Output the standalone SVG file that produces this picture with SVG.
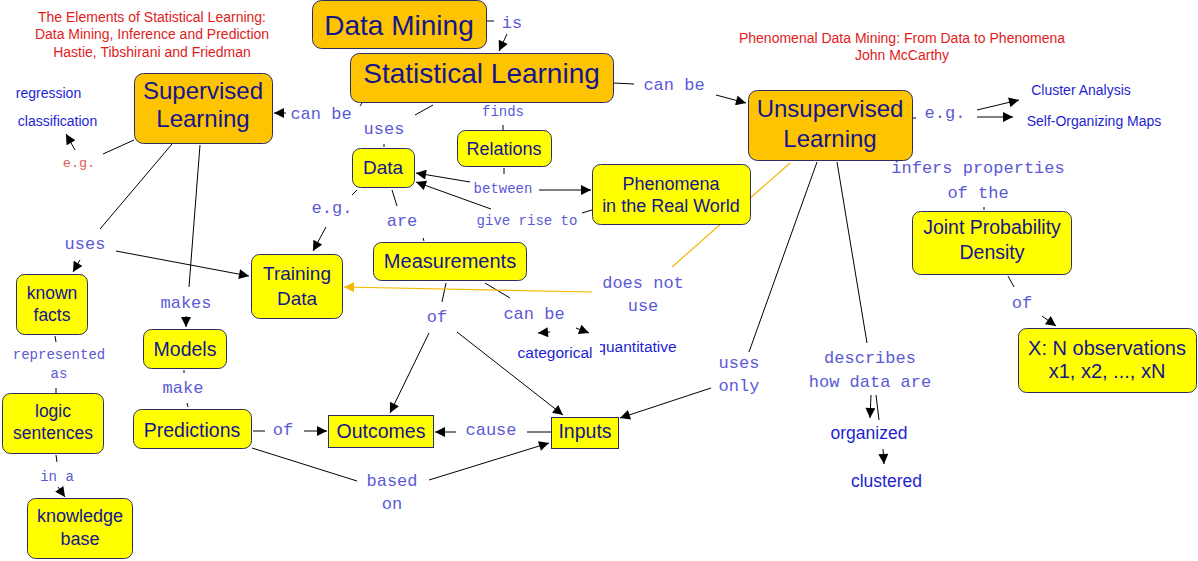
<svg xmlns="http://www.w3.org/2000/svg" width="1198" height="561" viewBox="0 0 1198 561">
<style>
.bg{fill:#fff}
.o{fill:#FFC400;stroke:#2d2d66;stroke-width:1}
.y{fill:#FFFF00;stroke:#2d2d66;stroke-width:1}
.nt{font-family:"Liberation Sans",Arial,sans-serif;fill:#16168c;text-anchor:middle}
.ft{font-family:"Liberation Sans",Arial,sans-serif;fill:#1f1fd2;text-anchor:middle}
.rd{font-family:"Liberation Sans",Arial,sans-serif;fill:#e01c1c;text-anchor:middle;font-size:14px}
.lk{font-family:"Liberation Mono","Courier New",monospace;fill:#5a5ad6;text-anchor:middle;font-size:17px}
.sm{font-size:14px}
.ln{stroke:#000;stroke-width:1;fill:none}
.ar{marker-end:url(#ah)}
.or{stroke:#f5b800;stroke-width:1.2;fill:none}
.oar{marker-end:url(#oh)}
</style>
<defs>
<marker id="ah" viewBox="0 0 10 10" refX="10" refY="5" markerWidth="12" markerHeight="10" orient="auto" markerUnits="userSpaceOnUse"><path d="M0,0 L10,5 L0,10 z" fill="#000"/></marker>
<marker id="oh" viewBox="0 0 10 10" refX="10" refY="5" markerWidth="12" markerHeight="10" orient="auto" markerUnits="userSpaceOnUse"><path d="M0,0 L10,5 L0,10 z" fill="#f5b800"/></marker>
</defs>
<rect class="bg" x="0" y="0" width="1198" height="561"/>

<g id="connectors">
<path class="ln" d="M486,21 L494,21"/>
<path class="ln ar" d="M507,34 L499,51"/>
<path class="ln" d="M613,83 L634,84"/>
<path class="ln ar" d="M716,95 L746,103"/>
<path class="ln" d="M362,103 L360,106"/>
<path class="ln ar" d="M286,113 L274,113"/>
<path class="ln" d="M433,105 L415,115"/>
<path class="ln" d="M384,144 L384,147"/>
<path class="ln" d="M503,125 L503,130"/>
<path class="ln" d="M504,168 L504,174"/>
<path class="ln ar" d="M470,182 L416,173"/>
<path class="ln ar" d="M539,190 L591,190"/>
<path class="ln" d="M592,210 L582,213"/>
<path class="ln ar" d="M491,209 L416,182"/>
<path class="ln" d="M357,190 L352,195"/>
<path class="ln ar" d="M326,227 L313,251"/>
<path class="ln" d="M392,190 L397,206"/>
<path class="ln" d="M423,238 L424,241"/>
<path class="ln" d="M446,283 L442,302"/>
<path class="ln ar" d="M429,333 L390,413"/>
<path class="ln ar" d="M457,332 L563,415"/>
<path class="ln" d="M485,283 L510,298"/>
<path class="ln ar" d="M550,332 L538,333"/>
<path class="ln ar" d="M576,328 L589,333"/>
<path class="or" d="M790,163 L672,267"/>
<path class="or oar" d="M592,292 L344,287"/>
<path class="ln" d="M134,140 L103,154"/>
<path class="ln ar" d="M75,150 L66,134"/>
<path class="ln" d="M172,144 L100,229"/>
<path class="ln ar" d="M80,260 L73,272"/>
<path class="ln ar" d="M116,251 L249,276"/>
<path class="ln" d="M200,145 L189,287"/>
<path class="ln ar" d="M186,316 L186,327"/>
<path class="ln" d="M55,336 L56,342"/>
<path class="ln" d="M56,388 L56,393"/>
<path class="ln" d="M184,370 L184,373"/>
<path class="ln" d="M187,403 L188,407"/>
<path class="ln" d="M56,455 L57,462"/>
<path class="ln ar" d="M58,487 L65,497"/>
<path class="ln" d="M253,431 L265,431"/>
<path class="ln ar" d="M304,431 L327,431"/>
<path class="ln" d="M551,432 L527,432"/>
<path class="ln ar" d="M456,432 L435,432"/>
<path class="ln" d="M252,448 L357,481"/>
<path class="ln ar" d="M429,480 L549,443"/>
<path class="ln" d="M817,162 L749,352"/>
<path class="ln ar" d="M711,388 L620,418"/>
<path class="ln" d="M837,162 L867,343"/>
<path class="ln ar" d="M871,395 L870,418"/>
<path class="ln" d="M876,395 L879,420"/>
<path class="ln ar" d="M883,449 L884,464"/>
<path class="ln" d="M912,118 L916,118"/>
<path class="ln ar" d="M977,110 L1019,100"/>
<path class="ln ar" d="M977,117 L1013,117"/>
<path class="ln" d="M984,207 L984,210"/>
<path class="ln" d="M1008,276 L1014,287"/>
<path class="ln ar" d="M1042,316 L1056,326"/>
</g>

<g id="link-labels">
<text class="lk" x="512" y="28">is</text>
<text class="lk" x="674" y="90">can be</text>
<text class="lk" x="321" y="119">can be</text>
<text class="lk" x="384" y="134">uses</text>
<text class="lk sm" x="503" y="116">finds</text>
<text class="lk sm" x="503" y="193">between</text>
<text class="lk sm" x="527" y="225">give rise to</text>
<text class="lk" x="332" y="213">e.g.</text>
<text class="lk" x="402" y="226">are</text>
<text class="lk" x="643" y="288">does not</text>
<text class="lk" x="643" y="311">use</text>
<text class="lk" x="437" y="322">of</text>
<text class="lk" x="534" y="319">can be</text>
<text class="lk" x="79" y="167" style="fill:#e05a5a;font-size:13.5px">e.g.</text>
<text class="lk" x="85" y="249">uses</text>
<text class="lk" x="186" y="308">makes</text>
<text class="lk sm" x="59" y="359">represented</text>
<text class="lk sm" x="59" y="378">as</text>
<text class="lk" x="183" y="393">make</text>
<text class="lk sm" x="57" y="481">in a</text>
<text class="lk" x="283" y="435">of</text>
<text class="lk" x="491" y="435">cause</text>
<text class="lk" x="392" y="486">based</text>
<text class="lk" x="392" y="509">on</text>
<text class="lk" x="739" y="368">uses</text>
<text class="lk" x="739" y="391">only</text>
<text class="lk" x="870" y="363">describes</text>
<text class="lk" x="870" y="387">how data are</text>
<text class="lk" x="978" y="173">infers properties</text>
<text class="lk" x="978" y="198">of the</text>
<text class="lk" x="1022" y="308">of</text>
<text class="lk" x="945" y="118">e.g.</text>
</g>

<g id="ref-left"><text class="rd" x="152" y="22">The Elements of Statistical Learning:</text><text class="rd" x="152" y="39">Data Mining, Inference and Prediction</text><text class="rd" x="152" y="57">Hastie, Tibshirani and Friedman</text></g>
<g id="ref-right"><text class="rd" x="902" y="43">Phenomenal Data Mining: From Data to Phenomena</text><text class="rd" x="902" y="60">John McCarthy</text></g>

<g id="data-mining"><rect class="o" x="312.5" y="0.5" width="174" height="48" rx="9"/><text class="nt" x="399" y="35" font-size="28">Data Mining</text></g>
<g id="statistical-learning"><rect class="o" x="350.5" y="53.5" width="263" height="49" rx="9"/><text class="nt" x="481.5" y="83" font-size="28">Statistical Learning</text></g>
<g id="supervised-learning"><rect class="o" x="134.5" y="73.5" width="138" height="70" rx="9"/><text class="nt" x="203" y="99" font-size="24">Supervised</text><text class="nt" x="203" y="127" font-size="24">Learning</text></g>
<g id="unsupervised-learning"><rect class="o" x="748.5" y="90.5" width="164" height="70" rx="9"/><text class="nt" x="830" y="117" font-size="24">Unsupervised</text><text class="nt" x="830" y="147" font-size="24">Learning</text></g>
<g id="data"><rect class="y" x="352.5" y="148.5" width="62" height="39" rx="8"/><text class="nt" x="383" y="174" font-size="19">Data</text></g>
<g id="relations"><rect class="y" x="457.5" y="130.5" width="94" height="36" rx="8"/><text class="nt" x="504" y="155" font-size="18">Relations</text></g>
<g id="phenomena"><rect class="y" x="592.5" y="164.5" width="158" height="60" rx="8"/><text class="nt" x="671" y="190" font-size="18">Phenomena</text><text class="nt" x="671" y="212" font-size="18">in the Real World</text></g>
<g id="measurements"><rect class="y" x="373.5" y="242.5" width="153" height="38" rx="8"/><text class="nt" x="450" y="268" font-size="20">Measurements</text></g>
<g id="training-data"><rect class="y" x="251.5" y="254.5" width="91" height="64" rx="8"/><text class="nt" x="297" y="280" font-size="19">Training</text><text class="nt" x="297" y="305" font-size="19">Data</text></g>
<g id="known-facts"><rect class="y" x="16.5" y="274.5" width="71" height="60" rx="8"/><text class="nt" x="52" y="299" font-size="17.5">known</text><text class="nt" x="52" y="321" font-size="17.5">facts</text></g>
<g id="models"><rect class="y" x="143.5" y="329.5" width="83" height="39" rx="8"/><text class="nt" x="185" y="356" font-size="19.5">Models</text></g>
<g id="logic-sentences"><rect class="y" x="2.5" y="393.5" width="101" height="60" rx="8"/><text class="nt" x="53" y="417" font-size="17.5">logic</text><text class="nt" x="53" y="439" font-size="17.5">sentences</text></g>
<g id="knowledge-base"><rect class="y" x="27.5" y="498.5" width="105" height="60" rx="8"/><text class="nt" x="80" y="522" font-size="18">knowledge</text><text class="nt" x="80" y="545" font-size="18">base</text></g>
<g id="predictions"><rect class="y" x="133.5" y="409.5" width="118" height="39" rx="8"/><text class="nt" x="192" y="437" font-size="19.5">Predictions</text></g>
<g id="outcomes"><rect class="y" x="328.5" y="415.5" width="105" height="32"/><text class="nt" x="381" y="438" font-size="19.5">Outcomes</text></g>
<g id="inputs"><rect class="y" x="551.5" y="417.5" width="67" height="31"/><text class="nt" x="585" y="438" font-size="19.5">Inputs</text></g>
<g id="joint-probability-density"><rect class="y" x="912.5" y="211.5" width="159" height="63" rx="8"/><text class="nt" x="992" y="234" font-size="19.5">Joint Probability</text><text class="nt" x="992" y="259" font-size="19.5">Density</text></g>
<g id="x-observations"><rect class="y" x="1018.5" y="328.5" width="178" height="64" rx="8"/><text class="nt" x="1107" y="355" font-size="20">X: N observations</text><text class="nt" x="1107" y="378" font-size="20">x1, x2, ..., xN</text></g>

<g id="regression"><text class="ft" x="48.5" y="98" font-size="14">regression</text></g>
<g id="classification"><text class="ft" x="57.5" y="126" font-size="14">classification</text></g>
<g id="cluster-analysis"><text class="ft" x="1081" y="95" font-size="14">Cluster Analysis</text></g>
<g id="self-organizing-maps"><text class="ft" x="1094" y="126" font-size="14">Self-Organizing Maps</text></g>
<g id="quantitative"><text class="ft" x="637" y="352" font-size="15.5">quantitative</text></g>
<g id="categorical"><rect class="bg" x="514" y="342" width="86" height="21"/><text class="ft" x="555" y="358" font-size="15.5">categorical</text></g>
<g id="organized"><text class="ft" x="869" y="439" font-size="17.5">organized</text></g>
<g id="clustered"><text class="ft" x="886.5" y="487" font-size="17.5">clustered</text></g>
</svg>
